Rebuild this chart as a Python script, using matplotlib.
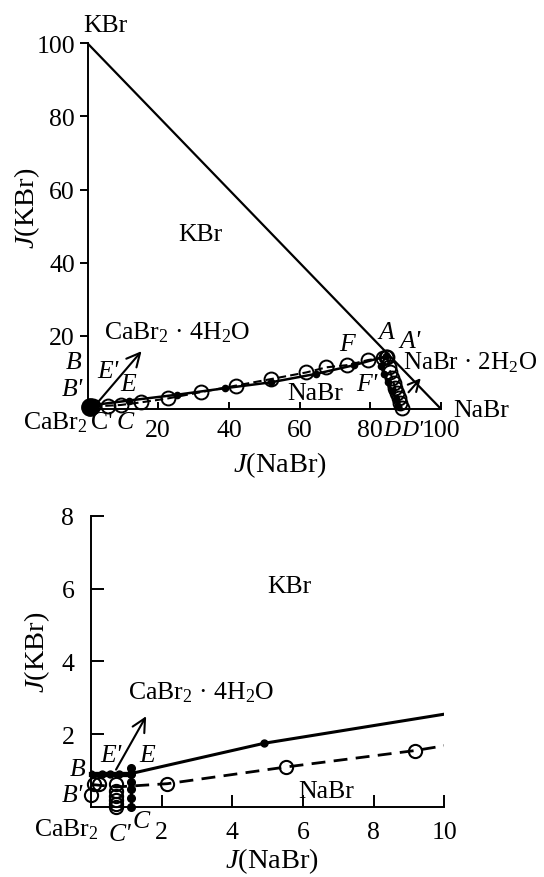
import matplotlib
matplotlib.use("Agg")
import matplotlib.pyplot as plt

plt.rcParams['font.family'] = ['Liberation Serif', 'DejaVu Serif']
plt.rcParams['mathtext.fontset'] = 'custom'
plt.rcParams['mathtext.rm'] = 'Liberation Serif'
plt.rcParams['mathtext.it'] = 'Liberation Serif:italic'
plt.rcParams['mathtext.bf'] = 'Liberation Serif:bold'

# ---------------- data: top panel (full triangle) ----------------
tri_x = [0, 100]
tri_y = [100, 0]

top_solid_x = [1.0, 11.6, 25.3, 39.0, 51.9, 64.6, 75.5, 84.3, 83.0, 83.8, 85.0, 86.2, 87.3, 87.9]
top_solid_y = [1.0, 2.3, 3.9, 5.7, 7.3, 9.6, 12.0, 14.4, 11.8, 9.6, 7.3, 5.0, 2.8, 0.9]

top_open_x = [1.5, 5.7, 9.4, 15.0, 22.8, 32.0, 42.0, 52.0, 61.9, 67.6, 73.5, 79.4, 83.6, 84.3, 84.8,
              85.3, 85.7, 86.1, 86.6, 87.0, 87.5, 88.0, 88.4, 88.9]
top_open_y = [0.8, 0.9, 1.1, 1.8, 2.9, 4.6, 6.4, 8.2, 10.0, 11.4, 12.0, 13.4, 14.0, 14.3, 14.1,
              11.4, 10.0, 8.6, 7.2, 5.8, 4.4, 3.0, 1.6, 0.2]

top_corner_x = [0.6]
top_corner_y = [0.6]

top_ticks = [20, 40, 60, 80, 100]

# ---------------- data: bottom panel (enlarged corner) ----------------
bot_solid_x = [0.0, 0.3, 0.55, 0.8, 1.14, 4.9, 11.6]
bot_solid_y = [0.92, 0.92, 0.92, 0.92, 0.92, 1.75, 2.8]

bot_ec_x = [1.14, 1.14, 1.14, 1.14, 1.14, 1.14]
bot_ec_y = [1.07, 0.92, 0.7, 0.5, 0.25, 0.0]

bot_dash_x = [0.0, 0.72, 2.16, 5.53, 9.17, 12.0]
bot_dash_y = [0.62, 0.55, 0.64, 1.10, 1.55, 2.00]

bot_open_x = [0.0, 0.08, 0.22, 0.72, 0.72, 0.72, 0.72, 0.72, 0.72, 2.16, 5.53, 9.17]
bot_open_y = [0.32, 0.64, 0.64, 0.64, 0.45, 0.30, 0.18, 0.08, 0.0, 0.64, 1.10, 1.55]

bot_xticks = [2, 4, 6, 8, 10]
bot_yticks = [2, 4, 6, 8]

# ---------------- figure ----------------
W, H = 544, 878
fig = plt.figure(figsize=(W / 100, H / 100), dpi=100)

def px_axes(l, r, b, t):
    return fig.add_axes([l / W, 1 - b / H, (r - l) / W, (b - t) / H])

FS = 18.5
LFS = 20.5
K = 'black'

# ---- top ----
ax1 = px_axes(87.5, 441, 410, 44.3)
ax1.set_xlim(0, 100)
ax1.set_ylim(0, 100)
ax1.plot(tri_x, tri_y, color=K, lw=1.6)
ax1.plot(top_solid_x, top_solid_y, color=K, lw=1.8, marker='o', ms=4.5, clip_on=False, zorder=3)
ax1.plot(top_open_x, top_open_y, color=K, lw=1.5, ls=(0, (4, 2)), marker='o', ms=10,
         mfc='none', mec=K, mew=1.4, clip_on=False, zorder=4)
ax1.plot(top_corner_x, top_corner_y, 'o', color=K, ms=12.5, clip_on=False, zorder=5)
ax1.annotate('', xy=(15.8, 16.4), xytext=(2.1, 0.9),
             arrowprops=dict(arrowstyle='->', color=K, lw=1.5, mutation_scale=24))
ax1.annotate('', xy=(94.8, 9.0), xytext=(90.3, 4.0),
             arrowprops=dict(arrowstyle='->', color=K, lw=1.5, mutation_scale=20))
for s in ['top', 'right']:
    ax1.spines[s].set_visible(False)
for s in ['left', 'bottom']:
    ax1.spines[s].set_linewidth(1.4)
ax1.set_xticks(top_ticks)
ax1.set_yticks(top_ticks)
ax1.tick_params(axis='x', direction='in', length=5, width=1.4, pad=7, labelsize=FS)
ax1.tick_params(axis='y', direction='out', length=6, width=1.4, pad=3, labelsize=FS)

def t(ax, x, y, s, it=False, ha='center', va='center', fs=FS):
    ax.text(x, y, s, ha=ha, va=va, fontsize=fs, fontstyle='italic' if it else 'normal',
            clip_on=False)

t(ax1, -1.3, 105, 'KBr', ha='left')
t(ax1, 31.8, 47.9, 'KBr')
t(ax1, 4.7, 21.1, 'CaBr$_2$ · 4H$_2$O', ha='left')
t(ax1, -3.8, 12.9, 'B', it=True)
t(ax1, -4.4, 5.5, "B'", it=True)
t(ax1, 5.8, 10.4, "E'", it=True)
t(ax1, 11.5, 6.8, 'E', it=True)
t(ax1, -9.0, -5.3, 'CaBr$_2$', va='baseline')
t(ax1, 4.2, -5.3, "C'", va='baseline')
t(ax1, 10.6, -5.3, 'C', it=True, va='baseline')
t(ax1, 73.3, 17.8, 'F', it=True)
t(ax1, 84.4, 21.0, 'A', it=True)
t(ax1, 91.1, 18.6, "A'", it=True)
t(ax1, 89.3, 12.9, 'NaBr · 2H$_2$O', ha='left', fs=18)
t(ax1, 78.9, 6.8, "F'", it=True)
t(ax1, 64.5, 4.4, 'NaBr')
t(ax1, 103.4, -0.3, 'NaBr', ha='left')
t(ax1, 86.1, -5.6, 'D', it=True, fs=17)
t(ax1, 91.8, -5.6, "D'", it=True, fs=17)
fig.text(280 / W, 1 - 465 / H, '$J$(NaBr)', ha='center', va='center', fontsize=LFS)
fig.text(27 / W, 1 - 208 / H, '$J$(KBr)', ha='center', va='center', fontsize=LFS, rotation=90)

# ---- bottom ----
ax2 = px_axes(91, 444.3, 808, 516.7)
ax2.set_xlim(0, 10)
ax2.set_ylim(0, 8)
ax2.plot(bot_solid_x, bot_solid_y, color=K, lw=2.2, marker='o', ms=5, zorder=3)
ax2.plot(bot_solid_x[:5], bot_solid_y[:5], color=K, lw=3.8, zorder=3, clip_on=False)
ax2.plot(bot_ec_x, bot_ec_y, color=K, lw=2.2, marker='o', ms=5.5, zorder=3, clip_on=False)
ax2.plot(bot_dash_x, bot_dash_y, color=K, lw=2.0, ls=(0, (5, 3)), zorder=2)
ax2.plot(bot_open_x, bot_open_y, 'o', ms=9.5, mfc='none', mec=K, mew=1.5, clip_on=False, zorder=4)
ax2.annotate('', xy=(1.6, 2.56), xytext=(0.67, 0.96),
             arrowprops=dict(arrowstyle='->', color=K, lw=1.5, mutation_scale=24))
for s in ['top', 'right']:
    ax2.spines[s].set_visible(False)
for s in ['left', 'bottom']:
    ax2.spines[s].set_linewidth(1.4)
ax2.set_xticks(bot_xticks)
ax2.set_yticks(bot_yticks)
ax2.tick_params(axis='x', direction='in', length=9, width=1.4, pad=10, labelsize=FS)
ax2.tick_params(axis='y', direction='in', length=9, width=1.4, pad=12, labelsize=FS)

t(ax2, 5.61, 6.08, 'KBr')
t(ax2, 1.05, 3.18, 'CaBr$_2$ · 4H$_2$O', ha='left')
t(ax2, -0.37, 1.04, 'B', it=True)
t(ax2, 0.55, 1.42, "E'", it=True)
t(ax2, 1.59, 1.42, 'E', it=True)
t(ax2, -0.54, 0.33, "B'", it=True)
t(ax2, 6.67, 0.44, 'NaBr')
t(ax2, -0.71, -0.6, 'CaBr$_2$')
t(ax2, 0.81, -0.74, "C'", it=True)
t(ax2, 1.43, -0.38, 'C', it=True)
fig.text(272 / W, 1 - 861 / H, '$J$(NaBr)', ha='center', va='center', fontsize=LFS)
fig.text(37 / W, 1 - 652 / H, '$J$(KBr)', ha='center', va='center', fontsize=LFS, rotation=90)

fig.savefig('out.png', dpi=100)
